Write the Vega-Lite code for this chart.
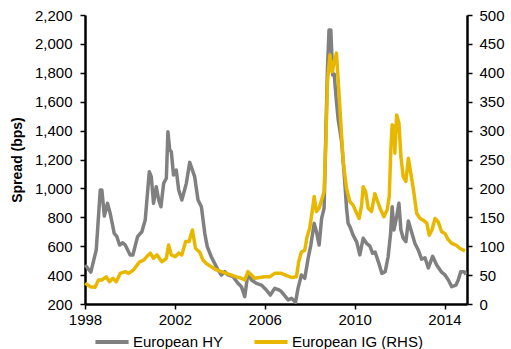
{
  "$schema": "https://vega.github.io/schema/vega-lite/v6.json",
  "width": 382,
  "height": 289,
  "autosize": {"type": "none"},
  "padding": {"left": 85, "top": 15, "right": 44, "bottom": 45},
  "background": "white",
  "config": {
    "font": "Liberation Sans",
    "view": {"stroke": null},
    "axis": {"grid": false, "domainColor": "black", "domainWidth": 2.5, "tickColor": "black", "tickWidth": 1.5, "tickSize": 5, "labelFont": "Liberation Sans", "labelFontSize": 15, "labelColor": "black", "titleFont": "Liberation Sans"},
    "legend": {"labelFont": "Liberation Sans", "labelFontSize": 15, "labelColor": "black"}
  },
  "datasets": {
    "hy": [
      {"series": "European HY", "year": 1998.01, "spread": 470},
      {"series": "European HY", "year": 1998.26, "spread": 420},
      {"series": "European HY", "year": 1998.5, "spread": 574},
      {"series": "European HY", "year": 1998.68, "spread": 989},
      {"series": "European HY", "year": 1998.75, "spread": 989},
      {"series": "European HY", "year": 1998.86, "spread": 809},
      {"series": "European HY", "year": 1999.0, "spread": 897},
      {"series": "European HY", "year": 1999.12, "spread": 828},
      {"series": "European HY", "year": 1999.3, "spread": 689},
      {"series": "European HY", "year": 1999.42, "spread": 666},
      {"series": "European HY", "year": 1999.54, "spread": 608},
      {"series": "European HY", "year": 1999.68, "spread": 624},
      {"series": "European HY", "year": 1999.79, "spread": 608},
      {"series": "European HY", "year": 2000.01, "spread": 539},
      {"series": "European HY", "year": 2000.13, "spread": 539},
      {"series": "European HY", "year": 2000.34, "spread": 666},
      {"series": "European HY", "year": 2000.53, "spread": 700},
      {"series": "European HY", "year": 2000.68, "spread": 781},
      {"series": "European HY", "year": 2000.86, "spread": 1115},
      {"series": "European HY", "year": 2000.95, "spread": 1081},
      {"series": "European HY", "year": 2001.05, "spread": 897},
      {"series": "European HY", "year": 2001.17, "spread": 1012},
      {"series": "European HY", "year": 2001.28, "spread": 920},
      {"series": "European HY", "year": 2001.38, "spread": 873},
      {"series": "European HY", "year": 2001.5, "spread": 1035},
      {"series": "European HY", "year": 2001.62, "spread": 1070},
      {"series": "European HY", "year": 2001.69, "spread": 1392},
      {"series": "European HY", "year": 2001.77, "spread": 1266},
      {"series": "European HY", "year": 2001.84, "spread": 1254},
      {"series": "European HY", "year": 2001.94, "spread": 1093},
      {"series": "European HY", "year": 2002.06, "spread": 1127},
      {"series": "European HY", "year": 2002.17, "spread": 989},
      {"series": "European HY", "year": 2002.31, "spread": 920},
      {"series": "European HY", "year": 2002.51, "spread": 1035},
      {"series": "European HY", "year": 2002.66, "spread": 1180},
      {"series": "European HY", "year": 2002.88, "spread": 1081},
      {"series": "European HY", "year": 2003.03, "spread": 920},
      {"series": "European HY", "year": 2003.18, "spread": 873},
      {"series": "European HY", "year": 2003.33, "spread": 689},
      {"series": "European HY", "year": 2003.44, "spread": 597},
      {"series": "European HY", "year": 2003.62, "spread": 527},
      {"series": "European HY", "year": 2003.77, "spread": 481},
      {"series": "European HY", "year": 2003.92, "spread": 435},
      {"series": "European HY", "year": 2004.07, "spread": 401},
      {"series": "European HY", "year": 2004.22, "spread": 424},
      {"series": "European HY", "year": 2004.36, "spread": 401},
      {"series": "European HY", "year": 2004.59, "spread": 389},
      {"series": "European HY", "year": 2004.81, "spread": 343},
      {"series": "European HY", "year": 2004.96, "spread": 320},
      {"series": "European HY", "year": 2005.11, "spread": 251},
      {"series": "European HY", "year": 2005.25, "spread": 412},
      {"series": "European HY", "year": 2005.41, "spread": 366},
      {"series": "European HY", "year": 2005.63, "spread": 343},
      {"series": "European HY", "year": 2005.85, "spread": 331},
      {"series": "European HY", "year": 2006.07, "spread": 297},
      {"series": "European HY", "year": 2006.25, "spread": 262},
      {"series": "European HY", "year": 2006.44, "spread": 308},
      {"series": "European HY", "year": 2006.64, "spread": 297},
      {"series": "European HY", "year": 2006.74, "spread": 285},
      {"series": "European HY", "year": 2007.04, "spread": 228},
      {"series": "European HY", "year": 2007.19, "spread": 239},
      {"series": "European HY", "year": 2007.37, "spread": 212},
      {"series": "European HY", "year": 2007.48, "spread": 308},
      {"series": "European HY", "year": 2007.63, "spread": 401},
      {"series": "European HY", "year": 2007.78, "spread": 378},
      {"series": "European HY", "year": 2007.93, "spread": 516},
      {"series": "European HY", "year": 2008.05, "spread": 608},
      {"series": "European HY", "year": 2008.2, "spread": 758},
      {"series": "European HY", "year": 2008.3, "spread": 700},
      {"series": "European HY", "year": 2008.42, "spread": 608},
      {"series": "European HY", "year": 2008.53, "spread": 793},
      {"series": "European HY", "year": 2008.64, "spread": 862},
      {"series": "European HY", "year": 2008.72, "spread": 1392},
      {"series": "European HY", "year": 2008.79, "spread": 1831},
      {"series": "European HY", "year": 2008.86, "spread": 2096},
      {"series": "European HY", "year": 2008.94, "spread": 2096},
      {"series": "European HY", "year": 2009.02, "spread": 1785},
      {"series": "European HY", "year": 2009.09, "spread": 1790},
      {"series": "European HY", "year": 2009.19, "spread": 1600},
      {"series": "European HY", "year": 2009.27, "spread": 1473},
      {"series": "European HY", "year": 2009.42, "spread": 1323},
      {"series": "European HY", "year": 2009.56, "spread": 1046},
      {"series": "European HY", "year": 2009.64, "spread": 862},
      {"series": "European HY", "year": 2009.71, "spread": 758},
      {"series": "European HY", "year": 2009.79, "spread": 735},
      {"series": "European HY", "year": 2009.93, "spread": 677},
      {"series": "European HY", "year": 2010.09, "spread": 630},
      {"series": "European HY", "year": 2010.23, "spread": 540},
      {"series": "European HY", "year": 2010.38, "spread": 655},
      {"series": "European HY", "year": 2010.53, "spread": 620},
      {"series": "European HY", "year": 2010.68, "spread": 600},
      {"series": "European HY", "year": 2010.8, "spread": 551},
      {"series": "European HY", "year": 2010.91, "spread": 560},
      {"series": "European HY", "year": 2011.06, "spread": 490},
      {"series": "European HY", "year": 2011.21, "spread": 412},
      {"series": "European HY", "year": 2011.36, "spread": 424},
      {"series": "European HY", "year": 2011.49, "spread": 527},
      {"series": "European HY", "year": 2011.6, "spread": 689},
      {"series": "European HY", "year": 2011.67, "spread": 873},
      {"series": "European HY", "year": 2011.75, "spread": 712},
      {"series": "European HY", "year": 2011.87, "spread": 804},
      {"series": "European HY", "year": 2011.97, "spread": 897},
      {"series": "European HY", "year": 2012.06, "spread": 712},
      {"series": "European HY", "year": 2012.16, "spread": 655},
      {"series": "European HY", "year": 2012.28, "spread": 631},
      {"series": "European HY", "year": 2012.39, "spread": 775},
      {"series": "European HY", "year": 2012.54, "spread": 695},
      {"series": "European HY", "year": 2012.68, "spread": 620},
      {"series": "European HY", "year": 2012.83, "spread": 574},
      {"series": "European HY", "year": 2012.98, "spread": 510},
      {"series": "European HY", "year": 2013.13, "spread": 520},
      {"series": "European HY", "year": 2013.28, "spread": 450},
      {"series": "European HY", "year": 2013.47, "spread": 530},
      {"series": "European HY", "year": 2013.65, "spread": 470},
      {"series": "European HY", "year": 2013.87, "spread": 420},
      {"series": "European HY", "year": 2014.02, "spread": 401},
      {"series": "European HY", "year": 2014.17, "spread": 366},
      {"series": "European HY", "year": 2014.32, "spread": 320},
      {"series": "European HY", "year": 2014.51, "spread": 331},
      {"series": "European HY", "year": 2014.61, "spread": 366},
      {"series": "European HY", "year": 2014.72, "spread": 424},
      {"series": "European HY", "year": 2014.87, "spread": 424},
      {"series": "European HY", "year": 2014.96, "spread": 405}
    ],
    "ig": [
      {"series": "European IG (RHS)", "year": 1998.01, "spread": 36},
      {"series": "European IG (RHS)", "year": 1998.23, "spread": 30},
      {"series": "European IG (RHS)", "year": 1998.45, "spread": 29},
      {"series": "European IG (RHS)", "year": 1998.6, "spread": 41.5},
      {"series": "European IG (RHS)", "year": 1998.75, "spread": 41.5},
      {"series": "European IG (RHS)", "year": 1998.94, "spread": 47},
      {"series": "European IG (RHS)", "year": 1999.09, "spread": 38.6},
      {"series": "European IG (RHS)", "year": 1999.24, "spread": 44.5},
      {"series": "European IG (RHS)", "year": 1999.39, "spread": 38.6},
      {"series": "European IG (RHS)", "year": 1999.57, "spread": 53},
      {"series": "European IG (RHS)", "year": 1999.79, "spread": 56},
      {"series": "European IG (RHS)", "year": 1999.94, "spread": 53},
      {"series": "European IG (RHS)", "year": 2000.16, "spread": 59},
      {"series": "European IG (RHS)", "year": 2000.43, "spread": 73},
      {"series": "European IG (RHS)", "year": 2000.61, "spread": 76},
      {"series": "European IG (RHS)", "year": 2000.75, "spread": 82},
      {"series": "European IG (RHS)", "year": 2000.91, "spread": 88},
      {"series": "European IG (RHS)", "year": 2001.05, "spread": 79},
      {"series": "European IG (RHS)", "year": 2001.2, "spread": 85},
      {"series": "European IG (RHS)", "year": 2001.42, "spread": 73},
      {"series": "European IG (RHS)", "year": 2001.62, "spread": 79},
      {"series": "European IG (RHS)", "year": 2001.72, "spread": 102},
      {"series": "European IG (RHS)", "year": 2001.84, "spread": 85},
      {"series": "European IG (RHS)", "year": 2002.02, "spread": 82},
      {"series": "European IG (RHS)", "year": 2002.17, "spread": 88},
      {"series": "European IG (RHS)", "year": 2002.31, "spread": 85},
      {"series": "European IG (RHS)", "year": 2002.48, "spread": 108},
      {"series": "European IG (RHS)", "year": 2002.63, "spread": 108},
      {"series": "European IG (RHS)", "year": 2002.78, "spread": 128},
      {"series": "European IG (RHS)", "year": 2002.92, "spread": 96},
      {"series": "European IG (RHS)", "year": 2003.1, "spread": 90},
      {"series": "European IG (RHS)", "year": 2003.25, "spread": 76},
      {"series": "European IG (RHS)", "year": 2003.4, "spread": 70},
      {"series": "European IG (RHS)", "year": 2003.62, "spread": 64.5},
      {"series": "European IG (RHS)", "year": 2003.85, "spread": 59},
      {"series": "European IG (RHS)", "year": 2004.07, "spread": 56},
      {"series": "European IG (RHS)", "year": 2004.29, "spread": 53},
      {"series": "European IG (RHS)", "year": 2004.52, "spread": 50},
      {"series": "European IG (RHS)", "year": 2004.74, "spread": 47},
      {"series": "European IG (RHS)", "year": 2004.96, "spread": 44.5},
      {"series": "European IG (RHS)", "year": 2005.11, "spread": 41.5},
      {"series": "European IG (RHS)", "year": 2005.25, "spread": 56},
      {"series": "European IG (RHS)", "year": 2005.41, "spread": 50},
      {"series": "European IG (RHS)", "year": 2005.55, "spread": 44.5},
      {"series": "European IG (RHS)", "year": 2005.78, "spread": 46},
      {"series": "European IG (RHS)", "year": 2006.0, "spread": 47},
      {"series": "European IG (RHS)", "year": 2006.22, "spread": 47},
      {"series": "European IG (RHS)", "year": 2006.44, "spread": 53},
      {"series": "European IG (RHS)", "year": 2006.74, "spread": 53},
      {"series": "European IG (RHS)", "year": 2006.97, "spread": 49},
      {"series": "European IG (RHS)", "year": 2007.19, "spread": 46},
      {"series": "European IG (RHS)", "year": 2007.41, "spread": 47},
      {"series": "European IG (RHS)", "year": 2007.51, "spread": 73},
      {"series": "European IG (RHS)", "year": 2007.63, "spread": 90},
      {"series": "European IG (RHS)", "year": 2007.78, "spread": 93},
      {"series": "European IG (RHS)", "year": 2007.88, "spread": 116},
      {"series": "European IG (RHS)", "year": 2008.0, "spread": 131},
      {"series": "European IG (RHS)", "year": 2008.11, "spread": 160},
      {"series": "European IG (RHS)", "year": 2008.2, "spread": 186},
      {"series": "European IG (RHS)", "year": 2008.3, "spread": 160},
      {"series": "European IG (RHS)", "year": 2008.42, "spread": 166},
      {"series": "European IG (RHS)", "year": 2008.53, "spread": 180},
      {"series": "European IG (RHS)", "year": 2008.64, "spread": 194},
      {"series": "European IG (RHS)", "year": 2008.72, "spread": 281},
      {"series": "European IG (RHS)", "year": 2008.79, "spread": 385},
      {"series": "European IG (RHS)", "year": 2008.9, "spread": 431},
      {"series": "European IG (RHS)", "year": 2009.0, "spread": 402},
      {"series": "European IG (RHS)", "year": 2009.09, "spread": 419},
      {"series": "European IG (RHS)", "year": 2009.19, "spread": 434},
      {"series": "European IG (RHS)", "year": 2009.27, "spread": 385},
      {"series": "European IG (RHS)", "year": 2009.39, "spread": 310},
      {"series": "European IG (RHS)", "year": 2009.49, "spread": 246},
      {"series": "European IG (RHS)", "year": 2009.64, "spread": 200},
      {"series": "European IG (RHS)", "year": 2009.79, "spread": 177},
      {"series": "European IG (RHS)", "year": 2009.93, "spread": 171},
      {"series": "European IG (RHS)", "year": 2010.09, "spread": 157},
      {"series": "European IG (RHS)", "year": 2010.2, "spread": 148},
      {"series": "European IG (RHS)", "year": 2010.31, "spread": 171},
      {"series": "European IG (RHS)", "year": 2010.38, "spread": 203},
      {"series": "European IG (RHS)", "year": 2010.49, "spread": 194},
      {"series": "European IG (RHS)", "year": 2010.6, "spread": 166},
      {"series": "European IG (RHS)", "year": 2010.75, "spread": 160},
      {"series": "European IG (RHS)", "year": 2010.9, "spread": 191},
      {"series": "European IG (RHS)", "year": 2011.0, "spread": 180},
      {"series": "European IG (RHS)", "year": 2011.16, "spread": 163},
      {"series": "European IG (RHS)", "year": 2011.3, "spread": 151},
      {"series": "European IG (RHS)", "year": 2011.45, "spread": 163},
      {"series": "European IG (RHS)", "year": 2011.54, "spread": 186},
      {"series": "European IG (RHS)", "year": 2011.61, "spread": 266},
      {"series": "European IG (RHS)", "year": 2011.67, "spread": 310},
      {"series": "European IG (RHS)", "year": 2011.75, "spread": 307},
      {"series": "European IG (RHS)", "year": 2011.79, "spread": 261},
      {"series": "European IG (RHS)", "year": 2011.87, "spread": 327},
      {"series": "European IG (RHS)", "year": 2011.97, "spread": 313},
      {"series": "European IG (RHS)", "year": 2012.06, "spread": 255},
      {"series": "European IG (RHS)", "year": 2012.16, "spread": 220},
      {"series": "European IG (RHS)", "year": 2012.28, "spread": 212},
      {"series": "European IG (RHS)", "year": 2012.39, "spread": 252},
      {"series": "European IG (RHS)", "year": 2012.5, "spread": 226},
      {"series": "European IG (RHS)", "year": 2012.62, "spread": 197},
      {"series": "European IG (RHS)", "year": 2012.76, "spread": 157},
      {"series": "European IG (RHS)", "year": 2012.91, "spread": 148},
      {"series": "European IG (RHS)", "year": 2013.05, "spread": 145},
      {"series": "European IG (RHS)", "year": 2013.21, "spread": 140},
      {"series": "European IG (RHS)", "year": 2013.32, "spread": 119},
      {"series": "European IG (RHS)", "year": 2013.44, "spread": 128},
      {"series": "European IG (RHS)", "year": 2013.58, "spread": 148},
      {"series": "European IG (RHS)", "year": 2013.72, "spread": 142},
      {"series": "European IG (RHS)", "year": 2013.87, "spread": 125},
      {"series": "European IG (RHS)", "year": 2014.02, "spread": 122},
      {"series": "European IG (RHS)", "year": 2014.17, "spread": 111},
      {"series": "European IG (RHS)", "year": 2014.32, "spread": 105},
      {"series": "European IG (RHS)", "year": 2014.51, "spread": 102},
      {"series": "European IG (RHS)", "year": 2014.69, "spread": 96},
      {"series": "European IG (RHS)", "year": 2014.91, "spread": 92}
    ]
  },
  "layer": [
    {
      "data": {"name": "hy"},
      "mark": {"type": "line", "strokeWidth": 3.5, "strokeJoin": "round"},
      "encoding": {
        "x": {"field": "year", "type": "quantitative", "scale": {"domain": [1998, 2015], "nice": false, "zero": false},
              "axis": {"title": null, "values": [1998, 2002, 2006, 2010, 2014], "format": "d", "labelPadding": 3, "labelFlush": false}},
        "y": {"field": "spread", "type": "quantitative", "scale": {"domain": [200, 2200], "nice": false, "zero": false},
              "axis": {"title": "Spread (bps)", "titleFontSize": 14, "titleFontWeight": "bold", "titleColor": "black", "titlePadding": 10, "values": [200, 400, 600, 800, 1000, 1200, 1400, 1600, 1800, 2000, 2200], "format": ",d", "labelPadding": 8}},
        "color": {"field": "series", "type": "nominal",
                  "scale": {"domain": ["European HY", "European IG (RHS)"], "range": ["#808080", "#E8B800"]},
                  "legend": {"title": null, "orient": "none", "legendX": 8, "legendY": 308, "direction": "horizontal", "symbolType": "stroke", "symbolStrokeWidth": 4, "symbolSize": 1100, "columnPadding": 22, "labelOffset": 2}}
      }
    },
    {
      "data": {"name": "ig"},
      "mark": {"type": "line", "strokeWidth": 3.5, "strokeJoin": "round"},
      "encoding": {
        "x": {"field": "year", "type": "quantitative"},
        "y": {"field": "spread", "type": "quantitative", "scale": {"domain": [0, 500], "nice": false},
              "axis": {"orient": "right", "title": null, "values": [0, 50, 100, 150, 200, 250, 300, 350, 400, 450, 500], "labelPadding": 7}},
        "color": {"field": "series", "type": "nominal"}
      }
    }
  ],
  "resolve": {"scale": {"y": "independent"}}
}
